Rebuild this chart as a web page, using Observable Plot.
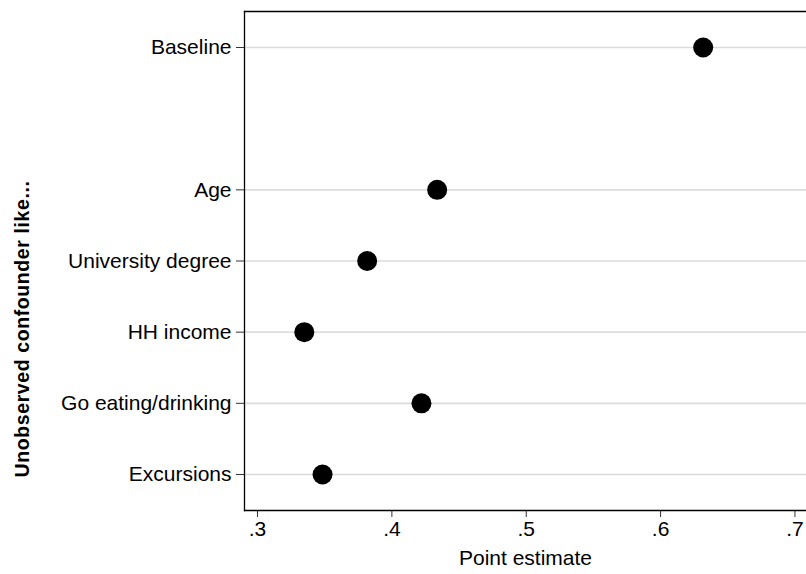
<!DOCTYPE html>
<html><head><meta charset="utf-8">
<script src="https://cdn.jsdelivr.net/npm/d3@7"></script>
<script src="https://cdn.jsdelivr.net/npm/@observablehq/plot@0.6"></script>
<style>body{margin:0;background:#fff}svg{display:block}</style>
</head><body><div id="chart"></div>
<script>
const categories = ["Baseline", "Age", "University degree", "HH income", "Go eating/drinking", "Excursions"];
const positions = [7, 5, 4, 3, 2, 1];
const estimates = [0.6317, 0.4337, 0.3816, 0.3348, 0.4220, 0.3484];
const xTicks = [0.3, 0.4, 0.5, 0.6, 0.7];
const xLabel = "Point estimate";
const yLabel = "Unobserved confounder like...";

const data = categories.map((c, i) => ({name: c, pos: positions[i], est: estimates[i]}));
const nameByPos = new Map(data.map(d => [d.pos, d.name]));
const font = "Liberation Sans, Arial, Helvetica, sans-serif";

const chart = Plot.plot({
  width: 806, height: 574,
  marginLeft: 244, marginRight: 0, marginTop: 11, marginBottom: 64,
  style: {fontFamily: font, fontSize: "21px", color: "#000", background: "#fff"},
  x: {domain: [0.2903, 0.7086]},
  y: {domain: [0.494, 7.506]},
  marks: [
    Plot.ruleY(positions, {stroke: "#dcdcdc", strokeWidth: 1.6}),
    Plot.axisX({ticks: xTicks, tickFormat: d => String(d).replace(/^0\./, "."), tickSize: 7, tickPadding: 4, fontSize: 21, label: null, stroke: "#333"}),
    Plot.axisY({ticks: positions, tickFormat: d => nameByPos.get(d), tickSize: 8, tickPadding: 5, fontSize: 21, label: null, stroke: "#333"}),
    Plot.frame({anchor: "left", stroke: "#000", strokeWidth: 1.3}),
    Plot.frame({anchor: "top", stroke: "#000", strokeWidth: 1.3}),
    Plot.frame({anchor: "bottom", stroke: "#000", strokeWidth: 1.3}),
    Plot.dot(data, {x: "est", y: "pos", r: 10, fill: "#000", stroke: null}),
    Plot.text([xLabel], {frameAnchor: "bottom", dy: 54, fontSize: 21, fill: "#000"}),
    Plot.text([yLabel], {frameAnchor: "left", textAnchor: "middle", dx: -222, dy: 68, rotate: -90, fontSize: 19.5, fontWeight: "bold", fill: "#000"})
  ]
});
d3.select(chart).selectAll("text").filter(function() { return this.textContent === yLabel; }).style("letter-spacing", "0.6px");
document.getElementById("chart").appendChild(chart);
</script></body></html>
